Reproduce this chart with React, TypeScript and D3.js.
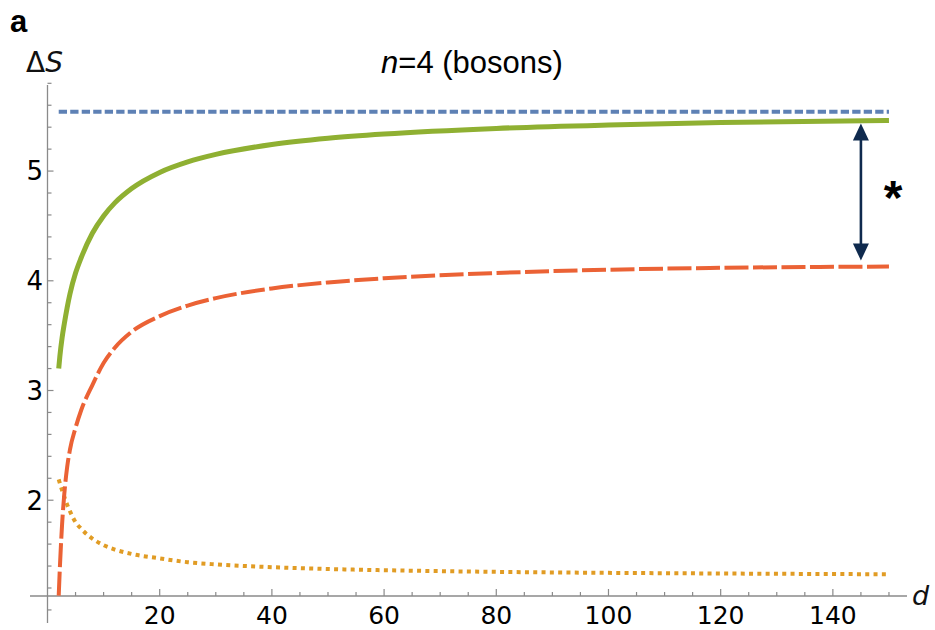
import React from "react";
import * as d3 from "d3";

// ---- data ----
const dValues = [2, 2.2, 2.6, 3, 3.5, 4, 5, 6, 8, 10, 12, 15, 20, 25, 30, 40, 50, 60, 80, 100, 120, 150];
const greenS = [3.2, 3.31, 3.48, 3.61, 3.755, 3.88, 4.07, 4.21, 4.433, 4.591, 4.71, 4.841, 4.988, 5.084, 5.152, 5.242, 5.299, 5.338, 5.389, 5.42, 5.442, 5.462];
const redS = [1.13, 1.38, 1.78, 2.06, 2.3, 2.46, 2.66, 2.82, 3.05, 3.25, 3.39, 3.535, 3.678, 3.774, 3.842, 3.93, 3.985, 4.023, 4.071, 4.101, 4.118, 4.13];
const orangeS = [2.19, 2.155, 2.09, 2.03, 1.96, 1.9, 1.8, 1.74, 1.65, 1.59, 1.55, 1.51, 1.47, 1.435, 1.415, 1.39, 1.373, 1.362, 1.347, 1.338, 1.332, 1.325];
const blueLevel = 5.54;
const blueRange = [2, 150];
const xMajorTicks = [20, 40, 60, 80, 100, 120, 140];
const xMinorTicks = d3.range(5, 151, 5);
const yMajorTicks = [2, 3, 4, 5];
const yMinorTicks = d3.range(1.0, 5.81, 0.2);
const arrowD = 145;
const title = "=4 (bosons)";

const W = 935;
const H = 630;

export default function App() {
  const x = d3.scaleLinear().domain([0, 153.5]).range([47.5, 908.6]);
  const y = d3.scaleLinear().domain([1.127, 5.8]).range([596, 83.3]);

  const line = d3
    .line<[number, number]>()
    .x((p) => x(p[0]))
    .y((p) => y(p[1]))
    .curve(d3.curveMonotoneX);

  const green = line(dValues.map((d, i) => [d, greenS[i]]))!;
  const red = line(dValues.map((d, i) => [d, redS[i]]))!;
  const orange = line(dValues.map((d, i) => [d, orangeS[i]]))!;
  const blue = line(blueRange.map((d) => [d, blueLevel] as [number, number]))!;

  const axisColor = "#8a8a8a";
  const tickFont = "'DejaVu Sans', sans-serif";
  const x0 = x(0);
  const yAxisY = y(1.127);

  const ax = x(arrowD);
  const topTip = y(greenS[greenS.length - 1]) + 3;
  const botTip = y(redS[redS.length - 1]) - 6;
  const headL = 17;
  const headW = 8;
  const navy = "#0f2a4e";

  return (
    <svg
      width={W}
      height={H}
      style={{ position: "absolute", left: 0, top: 0, background: "#fff" }}
    >
      {/* panel label */}
      <text x={10} y={32} fontFamily="'Liberation Sans', Arial, sans-serif" fontWeight="bold" fontSize={31} fill="#000">
        a
      </text>
      {/* title */}
      <text x={472} y={73} textAnchor="middle" fontFamily="'Liberation Sans', Arial, sans-serif" fontSize={31} fill="#000">
        <tspan fontStyle="italic">n</tspan>
        {title}
      </text>
      {/* y label */}
      <text x={26} y={72} fontFamily={tickFont} fontSize={28} fill="#111">
        Δ<tspan fontStyle="italic">S</tspan>
      </text>
      {/* x label */}
      <text x={912} y={605} fontFamily={tickFont} fontSize={27} fontStyle="italic" fill="#111">
        d
      </text>

      {/* axes */}
      <line x1={30} x2={907} y1={yAxisY} y2={yAxisY} stroke={axisColor} strokeWidth={1.3} />
      <line x1={x0} x2={x0} y1={85} y2={623} stroke={axisColor} strokeWidth={1.3} />

      {xMinorTicks.map((t) => (
        <line key={"xm" + t} x1={x(t)} x2={x(t)} y1={yAxisY} y2={yAxisY - (xMajorTicks.includes(t) ? 7 : 4)} stroke={axisColor} strokeWidth={1.2} />
      ))}
      {yMinorTicks.map((t) => {
        const major = yMajorTicks.some((m) => Math.abs(m - t) < 1e-6);
        return (
          <line key={"ym" + t.toFixed(1)} x1={x0} x2={x0 + (major ? 6 : 4)} y1={y(t)} y2={y(t)} stroke={axisColor} strokeWidth={1.2} />
        );
      })}
      {xMajorTicks.map((t) => (
        <text key={"xl" + t} x={x(t)} y={623.5} textAnchor="middle" fontFamily={tickFont} fontSize={25} fill="#000">
          {t}
        </text>
      ))}
      {yMajorTicks.map((t) => (
        <text key={"yl" + t} x={43} y={y(t)} dy="0.36em" textAnchor="end" fontFamily={tickFont} fontSize={26} fill="#000">
          {t}
        </text>
      ))}

      {/* series */}
      <path d={blue} fill="none" stroke="#5e81b5" strokeWidth={4} strokeDasharray="8.3 3.2" />
      <path d={orange} fill="none" stroke="#e19c24" strokeWidth={4} strokeDasharray="4 4.3" />
      <path d={red} fill="none" stroke="#eb6235" strokeWidth={4} strokeDasharray="24 4.5" />
      <path d={green} fill="none" stroke="#8fb032" strokeWidth={5} />

      {/* double arrow */}
      <line x1={ax} x2={ax} y1={topTip + headL - 2} y2={botTip - headL + 2} stroke={navy} strokeWidth={2.6} />
      <polygon points={`${ax},${topTip} ${ax - headW},${topTip + headL} ${ax + headW},${topTip + headL}`} fill={navy} />
      <polygon points={`${ax},${botTip} ${ax - headW},${botTip - headL} ${ax + headW},${botTip - headL}`} fill={navy} />
      <text x={893} y={214} textAnchor="middle" fontFamily="'Liberation Sans', Arial, sans-serif" fontWeight="bold" fontSize={48} fill="#000">
        *
      </text>
    </svg>
  );
}
